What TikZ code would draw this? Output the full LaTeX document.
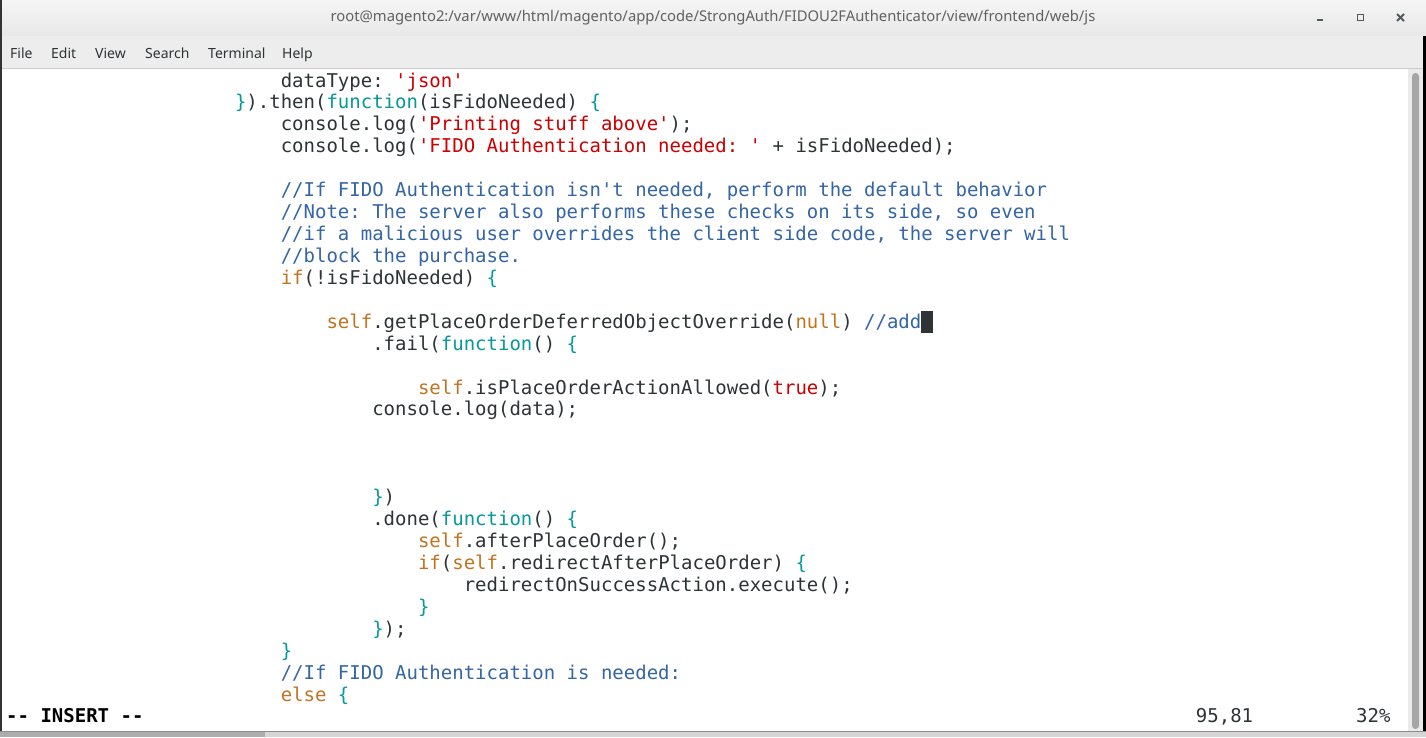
\documentclass[tikz,border=0pt]{standalone}
\usepackage{fontspec}
\setmainfont{Noto Sans}
\setmonofont{DejaVu Sans Mono}
\usepackage{tikz}
\usepackage{xcolor}

\definecolor{termfg}{HTML}{2E3436}
\definecolor{termred}{HTML}{CC0000}
\definecolor{termcyan}{HTML}{06989A}
\definecolor{termbrown}{HTML}{C07422}
\definecolor{termblue}{HTML}{3465A4}
\definecolor{barbg}{HTML}{EDEDED}
\definecolor{wmicon}{HTML}{4D5A5E}

\newcommand{\kwd}[1]{\textcolor{termcyan}{#1}}
\newcommand{\qstr}[1]{\textcolor{termred}{#1}}
\newcommand{\stm}[1]{\textcolor{termbrown}{#1}}
\newcommand{\cmt}[1]{\textcolor{termblue}{#1}}

\begin{document}
\begin{tikzpicture}[x=1pt,y=-1pt,
  code/.style={font=\ttfamily\fontsize{19}{22}\selectfont, text=termfg, anchor=base west, inner sep=0pt},
  menuitem/.style={font=\fontsize{14}{16}\selectfont, text=termfg, anchor=base west, inner sep=0pt},
  titletext/.style={font=\bfseries\fontsize{14.8}{17}\selectfont, text=black!62, inner sep=0pt},
  wmbtn/.style={draw=wmicon, line width=2pt}]
\useasboundingbox (0,0) rectangle (1426,737);
\fill[white] (0,0) rectangle (1426,737);
\shade[top color=white!96!black, bottom color=white!91!black] (0,0) rectangle (1426,36);
\fill[barbg] (0,36) rectangle (1426,68);
\draw[black!20] (0,68.5) -- (1426,68.5);
\fill[black!80] (0,0) rectangle (2,737);
\fill[black] (1423,36) rectangle (1426,737);
\fill[black!8] (1408,69) rectangle (1423,731);
\fill[black!35, rounded corners=3.5pt] (1412,73) rectangle (1419,729);
\fill[black!16] (0,731) rectangle (1426,737);
\fill[black!32] (0,732) rectangle (265,737);
\draw[black!45] (0,731.5) -- (1426,731.5);

\node[titletext] (title) at (713,18) {root@magento2:/var/www/html/magento/app/code/StrongAuth/FIDOU2FAuthenticator/view/frontend/web/js};
\draw[wmbtn] (1317,20) -- (1323,20);
\draw[wmicon, line width=1.8pt] (1357.5,14.5) rectangle (1363.5,20.5);
\draw[wmbtn] (1397,14) -- (1404,21);
\draw[wmbtn] (1397,21) -- (1404,14);

\node[menuitem] (mfile) at (10,58) {File};
\node[menuitem] (medit) at (51,58) {Edit};
\node[menuitem] (mview) at (95,58) {View};
\node[menuitem] (msearch) at (145,58) {Search};
\node[menuitem] (mterm) at (208,58) {Terminal};
\node[menuitem] (mhelp) at (282,58) {Help};

\node[code] (l0) at (280.56,87.00) {dataType: \qstr{'json'}};
\node[code] (l1) at (234.80,108.93) {\kwd{\}}).then(\kwd{function}(isFidoNeeded) \kwd{\{}};
\node[code] (l2) at (280.56,130.86) {console.log(\qstr{'Printing stuff above'});};
\node[code] (l3) at (280.56,152.79) {console.log(\qstr{'FIDO Authentication needed: '} + isFidoNeeded);};
\node[code] (l5) at (280.56,196.65) {\cmt{//If FIDO Authentication isn't needed, perform the default behavior}};
\node[code] (l6) at (280.56,218.58) {\cmt{//Note: The server also performs these checks on its side, so even}};
\node[code] (l7) at (280.56,240.51) {\cmt{//if a malicious user overrides the client side code, the server will}};
\node[code] (l8) at (280.56,262.44) {\cmt{//block the purchase.}};
\node[code] (l9) at (280.56,284.37) {\stm{if}(!isFidoNeeded) \kwd{\{}};
\node[code] (l11) at (326.32,328.23) {\stm{self}.getPlaceOrderDeferredObjectOverride(\stm{null}) \cmt{//add}};
\fill[termfg] (921.2,311) rectangle (932.6,332.5);
\node[code] (l12) at (372.08,350.16) {.fail(\kwd{function}() \kwd{\{}};
\node[code] (l14) at (417.84,394.02) {\stm{self}.isPlaceOrderActionAllowed(\qstr{true});};
\node[code] (l15) at (372.08,415.95) {console.log(data);};
\node[code] (l19) at (372.08,503.67) {\kwd{\}})};
\node[code] (l20) at (372.08,525.60) {.done(\kwd{function}() \kwd{\{}};
\node[code] (l21) at (417.84,547.53) {\stm{self}.afterPlaceOrder();};
\node[code] (l22) at (417.84,569.46) {\stm{if}(\stm{self}.redirectAfterPlaceOrder) \kwd{\{}};
\node[code] (l23) at (463.60,591.39) {redirectOnSuccessAction.execute();};
\node[code] (l24) at (417.84,613.32) {\kwd{\}}};
\node[code] (l25) at (372.08,635.25) {\kwd{\}});};
\node[code] (l26) at (280.56,657.18) {\kwd{\}}};
\node[code] (l27) at (280.56,679.11) {\cmt{//If FIDO Authentication is needed:}};
\node[code] (l28) at (280.56,701.04) {\stm{else} \kwd{\{}};
\node[code, font=\ttfamily\bfseries\fontsize{19}{22}\selectfont, text=black] (mode) at (6.00,722.97) {-- INSERT --};
\node[code] (ruler) at (1195.76,722.97) {95,81};
\node[code] (pct) at (1355.92,722.97) {32\%};
\end{tikzpicture}
\end{document}
